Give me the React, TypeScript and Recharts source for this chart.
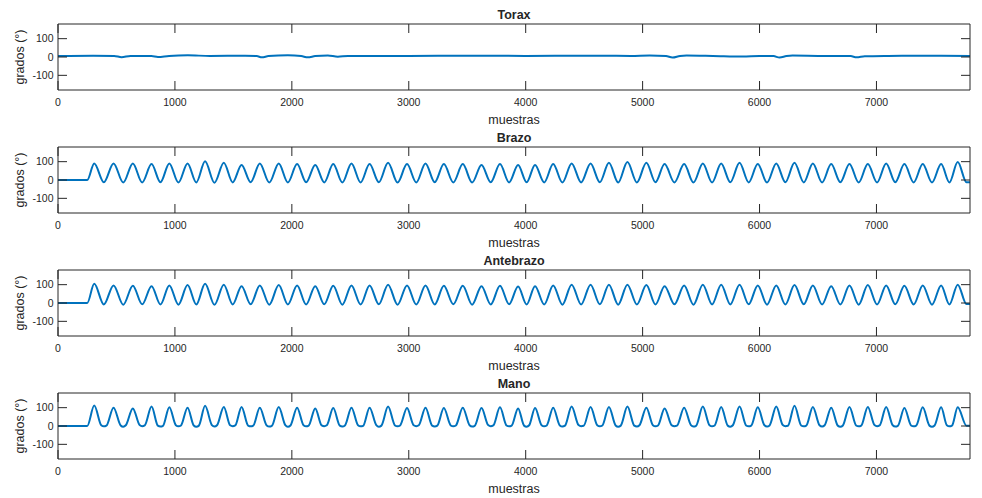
import { LineChart, Line, XAxis, YAxis } from "recharts";

// muestras de los picos y valles
const peakSamples = [
  310, 475, 640, 800, 952, 1108, 1258, 1418, 1570, 1726,
  1888, 2045, 2200, 2354, 2510, 2665, 2823, 2985, 3143, 3300,
  3462, 3622, 3780, 3935, 4080, 4235, 4393, 4555, 4712, 4870,
  5032, 5188, 5355, 5515, 5672, 5829, 5985, 6143, 6299, 6456,
  6613, 6769, 6926, 7083, 7239, 7396, 7553, 7695,
];
const troughSamples = [
  392, 558, 720, 876, 1030, 1183, 1338, 1494, 1648, 1807,
  1966, 2122, 2277, 2432, 2588, 2744, 2904, 3064, 3222, 3381,
  3542, 3701, 3858, 4008, 4158, 4314, 4474, 4634, 4791, 4951,
  5110, 5272, 5435, 5594, 5750, 5907, 6064, 6221, 6378, 6535,
  6691, 6848, 7005, 7161, 7318, 7475, 7624,
];

const brazoPeaks = [
  90, 90, 90, 87, 90, 90, 102, 94, 82, 90,
  90, 87, 82, 87, 90, 87, 94, 87, 90, 87,
  87, 82, 87, 82, 82, 87, 90, 90, 94, 98,
  94, 87, 87, 90, 90, 94, 87, 90, 94, 90,
  87, 87, 87, 90, 87, 87, 87, 98,
];
const brazoTroughs = [
  -12, -14, -13, -12, -14, -13, -15, -13, -12, -14,
  -13, -12, -13, -14, -13, -12, -14, -13, -12, -13,
  -14, -12, -13, -12, -13, -14, -13, -12, -14, -13,
  -12, -13, -14, -13, -12, -13, -14, -12, -13, -13,
  -12, -14, -13, -12, -13, -14, -13,
];

const antebrazoPeaks = [
  105, 96, 94, 92, 96, 98, 105, 100, 92, 96,
  98, 96, 92, 94, 96, 96, 100, 96, 96, 94,
  94, 92, 94, 90, 92, 96, 100, 100, 100, 100,
  98, 92, 96, 100, 100, 100, 96, 96, 98, 96,
  92, 96, 98, 96, 94, 96, 96, 100,
];
const antebrazoTroughs = [
  -8, -9, -7, -8, -9, -8, -10, -8, -7, -9,
  -8, -8, -7, -9, -8, -7, -9, -8, -8, -7,
  -9, -8, -7, -8, -8, -9, -8, -7, -9, -8,
  -8, -7, -9, -8, -8, -7, -9, -8, -7, -8,
  -8, -9, -8, -7, -8, -9, -8,
];

const manoPeaks = [
  112, 100, 96, 106, 102, 100, 110, 104, 104, 100,
  104, 100, 96, 98, 100, 100, 106, 98, 100, 98,
  100, 98, 102, 96, 98, 100, 106, 104, 104, 106,
  100, 96, 100, 106, 104, 106, 102, 106, 110, 104,
  100, 104, 104, 104, 98, 102, 102, 102,
];
const manoTroughs = [
  -2, -4, -1, -3, -2, -4, -3, -1, -2, -3,
  -4, -2, -1, -3, -2, -4, -2, -1, -3, -2,
  -3, -1, -2, -4, -2, -3, -1, -2, -4, -3,
  -2, -1, -3, -2, -4, -2, -3, -1, -2, -3,
  -4, -2, -1, -3, -2, -4, -2,
];
// bordes del fondo plano de la mano (antes y después de cada valle)
const manoLowIn = [
  4, 3, 5, 2, 4, 3, 5, 4, 2, 3,
  5, 4, 3, 2, 4, 5, 3, 4, 2, 3,
  4, 5, 3, 2, 4, 3, 5, 4, 3, 2,
  4, 3, 5, 4, 2, 3, 4, 5, 3, 4,
  2, 3, 5, 4, 3, 2, 4,
];
const manoLowOut = [
  2, 4, 3, 1, 3, 2, 4, 3, 2, 1,
  3, 2, 4, 3, 1, 2, 3, 4, 2, 3,
  1, 3, 2, 4, 3, 2, 1, 3, 2, 4,
  3, 2, 1, 3, 4, 2, 3, 1, 2, 4,
  3, 2, 3, 1, 2, 3, 2,
];
const MANO_FLAT = 22;

// torax: casi plano, con pequeñas caídas
const toraxSamples = [
  0, 300, 480, 544, 620, 800, 855, 950, 1111, 1300, 1600, 1700, 1744, 1800, 1966,
  2080, 2137, 2200, 2308, 2393, 2480, 3000, 3500, 4000, 4500, 4900, 5060, 5200,
  5256, 5320, 5376, 5600, 5855, 6000, 6120, 6171, 6230, 6282, 6500, 6780, 6829,
  6900, 7100, 7400, 7800,
];
const toraxValues = [
  5, 7, 6, -1, 6, 5, 0, 6, 9, 6, 7, 5, -2, 5, 9,
  5, -2, 5, 8, 2, 6, 6, 7, 6, 7, 6, 8, 5,
  -3, 6, 8, 6, 3, 6, 5, -3, 5, 8, 6, 5, -2,
  4, 6, 7, 6,
];

const xTicks = [0, 1000, 2000, 3000, 4000, 5000, 6000, 7000];
const yTicks = [-100, 0, 100];
const startSamples = [0, 250];
const endSamples = [7770, 7800];

const FONT = "'Liberation Sans', Arial, Helvetica, sans-serif";
const INK = "#262626";
const BLUE = "#0072BD";

// caja de cada subgráfico dentro de su svg
const W = 982;
const H = 130;
const BOX_TOP = 24;
const BOX_BOTTOM_SPACE = 40;
const BOX_LEFT = 58;
const BOX_RIGHT_SPACE = 12;
const BOX_BOTTOM = H - BOX_BOTTOM_SPACE;
const BOX_RIGHT = W - BOX_RIGHT_SPACE;
const TICK_LEN = 9;

type Pt = { x: number; y: number };

function buildWave(peaks: number[], troughs: number[], endValue: number, lowIn?: number[], lowOut?: number[]): Pt[] {
  const pts: Pt[] = startSamples.map((x) => ({ x, y: 0 }));
  peakSamples.forEach((x, i) => {
    pts.push({ x, y: peaks[i] });
    if (i < troughSamples.length) {
      const t = troughSamples[i];
      if (lowIn) pts.push({ x: t - MANO_FLAT, y: lowIn[i] });
      pts.push({ x: t, y: troughs[i] });
      if (lowOut) pts.push({ x: t + MANO_FLAT, y: lowOut[i] });
    }
  });
  endSamples.forEach((x) => pts.push({ x, y: endValue }));
  return pts;
}

const toraxData: Pt[] = toraxSamples.map((x, i) => ({ x, y: toraxValues[i] }));
const brazoData = buildWave(brazoPeaks, brazoTroughs, -12);
const antebrazoData = buildWave(antebrazoPeaks, antebrazoTroughs, -6);
const manoData = buildWave(manoPeaks, manoTroughs, 1, manoLowIn, manoLowOut);

const panels = [
  { title: "Torax", data: toraxData, top: 0 },
  { title: "Brazo", data: brazoData, top: 123 },
  { title: "Antebrazo", data: antebrazoData, top: 246 },
  { title: "Mano", data: manoData, top: 369 },
];

// marcas hacia dentro, estilo MATLAB (abajo y arriba)
const renderXTick = (props: any) => {
  const { x, y, payload } = props;
  return (
    <g key={`xt-${payload.value}`}>
      <line x1={x} x2={x} y1={BOX_BOTTOM} y2={BOX_BOTTOM - TICK_LEN} stroke={INK} strokeWidth={1} />
      <line x1={x} x2={x} y1={BOX_TOP} y2={BOX_TOP + TICK_LEN} stroke={INK} strokeWidth={1} />
      <text x={x} y={y} dy="0.71em" textAnchor="middle" fontSize={10.5} fill={INK} fontFamily={FONT}>
        {String(payload.value)}
      </text>
    </g>
  );
};

const renderYTick = (props: any) => {
  const { x, y, payload } = props;
  return (
    <g key={`yt-${payload.value}`}>
      <line x1={BOX_LEFT} x2={BOX_LEFT + TICK_LEN} y1={y} y2={y} stroke={INK} strokeWidth={1} />
      <line x1={BOX_RIGHT} x2={BOX_RIGHT - TICK_LEN} y1={y} y2={y} stroke={INK} strokeWidth={1} />
      <text x={x} y={y} dy="0.36em" textAnchor="end" fontSize={10.5} fill={INK} fontFamily={FONT}>
        {String(payload.value)}
      </text>
    </g>
  );
};

function Panel({ title, data }: { title: string; data: Pt[] }) {
  return (
    <LineChart width={W} height={H} data={data} margin={{ top: 0, right: 0, bottom: 0, left: 0 }}>
      <XAxis
        xAxisId="t"
        orientation="top"
        type="number"
        dataKey="x"
        domain={[0, 7800]}
        allowDataOverflow
        ticks={xTicks}
        height={BOX_TOP}
        tick={false}
        tickLine={false}
        stroke={INK}
        label={{ value: title, position: "insideBottom", offset: 5.5, fontSize: 12.5, fontWeight: "bold", fill: INK, fontFamily: FONT }}
      />
      <XAxis
        xAxisId="b"
        type="number"
        dataKey="x"
        domain={[0, 7800]}
        allowDataOverflow
        ticks={xTicks}
        interval={0}
        height={BOX_BOTTOM_SPACE}
        tick={renderXTick}
        tickLine={false}
        tickSize={0}
        tickMargin={9}
        stroke={INK}
        label={{ value: "muestras", position: "insideBottom", offset: 6, fontSize: 12.5, fill: INK, fontFamily: FONT }}
      />
      <YAxis
        yAxisId="l"
        type="number"
        domain={[-180, 180]}
        allowDataOverflow
        ticks={yTicks}
        interval={0}
        width={BOX_LEFT}
        tick={renderYTick}
        tickLine={false}
        tickSize={0}
        tickMargin={4.5}
        stroke={INK}
        label={{ value: "grados (°)", angle: -90, position: "insideLeft", offset: 20, fontSize: 12.5, fill: INK, fontFamily: FONT, style: { textAnchor: "middle" } }}
      />
      <YAxis
        yAxisId="r"
        orientation="right"
        type="number"
        domain={[-180, 180]}
        allowDataOverflow
        ticks={yTicks}
        width={BOX_RIGHT_SPACE}
        tick={false}
        tickLine={false}
        stroke={INK}
      />
      <Line
        xAxisId="b"
        yAxisId="l"
        dataKey="y"
        type="monotone"
        stroke={BLUE}
        strokeWidth={2}
        dot={false}
        isAnimationActive={false}
      />
    </LineChart>
  );
}

export default function App() {
  return (
    <div style={{ position: "absolute", left: 0, top: 0, width: W, height: 498, background: "#fff" }}>
      {panels.map((p) => (
        <div key={p.title} style={{ position: "absolute", left: 0, top: p.top }}>
          <Panel title={p.title} data={p.data} />
        </div>
      ))}
    </div>
  );
}
